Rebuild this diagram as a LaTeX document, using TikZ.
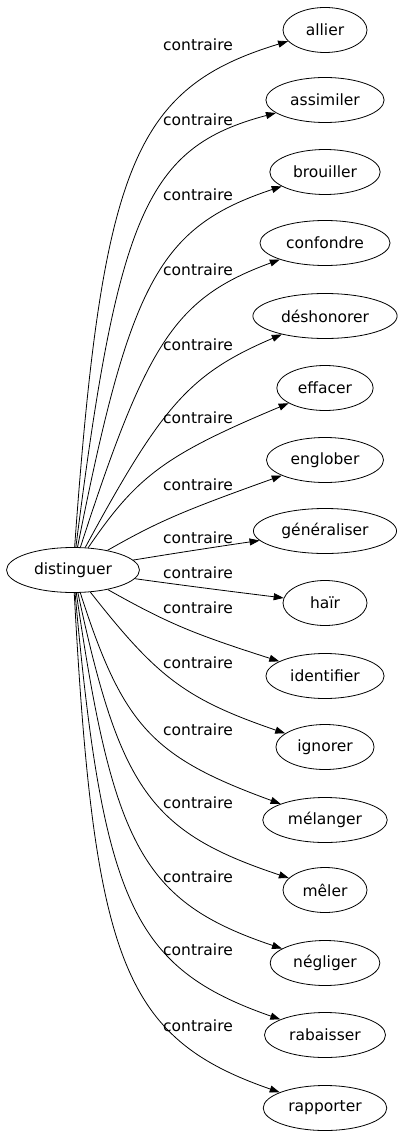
\documentclass[tikz,border=0pt]{standalone}
\usepackage{fontspec}
\setmainfont{DejaVu Sans}
\usetikzlibrary{shapes.geometric,arrows.meta}

\begin{document}
\begin{tikzpicture}[
    x=1pt, y=-1pt,
    word/.style={ellipse, draw, line width=0.8pt, minimum width=84pt, minimum height=45pt, inner xsep=7pt, font=\fontsize{15.5}{18}\selectfont},
    lbl/.style={inner sep=0pt, font=\fontsize{15.5}{18}\selectfont},
    arrow/.style={-{Triangle[length=10pt,width=7pt]}, line width=0.8pt}
]
\useasboundingbox (0,0) rectangle (403,1139);

% source word
\node[word, inner xsep=8pt] (dist) at (73,570) {distinguer};

% opposite words
\node[word] (allier) at (325,30) {allier};
\node[word] (assimiler) at (325,100) {assimiler};
\node[word] (brouiller) at (325,172) {brouiller};
\node[word] (confondre) at (325,243) {confondre};
\node[word] (deshonorer) at (325,316) {déshonorer};
\node[word] (effacer) at (325,388) {effacer};
\node[word] (englober) at (325,460) {englober};
\node[word] (generaliser) at (325,531) {généraliser};
\node[word] (hair) at (325,603) {haïr};
\node[word] (identifier) at (325,676) {identifier};
\node[word] (ignorer) at (325,747) {ignorer};
\node[word] (melanger) at (325,820) {mélanger};
\node[word] (meler) at (325,890) {mêler};
\node[word] (negliger) at (325,963) {négliger};
\node[word] (rabaisser) at (325,1035) {rabaisser};
\node[word] (rapporter) at (325,1108) {rapporter};

% edge labels
\node[lbl] (l1) at (198,45) {contraire};
\node[lbl] (l2) at (198,120) {contraire};
\node[lbl] (l3) at (198,195) {contraire};
\node[lbl] (l4) at (198,270) {contraire};
\node[lbl] (l5) at (198,345) {contraire};
\node[lbl] (l6) at (198,418) {contraire};
\node[lbl] (l7) at (198,485) {contraire};
\node[lbl] (l8) at (198,538) {contraire};
\node[lbl] (l9) at (198,573) {contraire};
\node[lbl] (l10) at (198,608) {contraire};
\node[lbl] (l11) at (198,663) {contraire};
\node[lbl] (l12) at (198,730) {contraire};
\node[lbl] (l13) at (198,803) {contraire};
\node[lbl] (l14) at (198,877) {contraire};
\node[lbl] (l15) at (198,950) {contraire};
\node[lbl] (l16) at (198,1026) {contraire};

% edges
\draw[arrow] (dist) .. controls (102,165) and (134,88) .. (allier);
\draw[arrow] (dist) .. controls (118,213) and (147,147) .. (assimiler);
\draw[arrow] (dist) .. controls (130,282) and (159,227) .. (brouiller);
\draw[arrow] (dist) .. controls (147,342) and (175,298) .. (confondre);
\draw[arrow] (dist) .. controls (162,406) and (189,374) .. (deshonorer);
\draw[arrow] (dist) .. controls (137,476) and (165,455) .. (effacer);
\draw[arrow] (dist) .. controls (159,521) and (183,511) .. (englober);
\draw[arrow] (dist) .. controls (170,554) and (215,547) .. (generaliser);
\draw[arrow] (dist) .. controls (180,585) and (235,592) .. (hair);
\draw[arrow] (dist) .. controls (169,624) and (194,634) .. (identifier);
\draw[arrow] (dist) .. controls (157,677) and (185,699) .. (ignorer);
\draw[arrow] (dist) .. controls (123,726) and (152,757) .. (melanger);
\draw[arrow] (dist) .. controls (120,789) and (150,832) .. (meler);
\draw[arrow] (dist) .. controls (113,847) and (143,902) .. (negliger);
\draw[arrow] (dist) .. controls (103,903) and (133,968) .. (rabaisser);
\draw[arrow] (dist) .. controls (94,961) and (123,1038) .. (rapporter);
\end{tikzpicture}
\end{document}
